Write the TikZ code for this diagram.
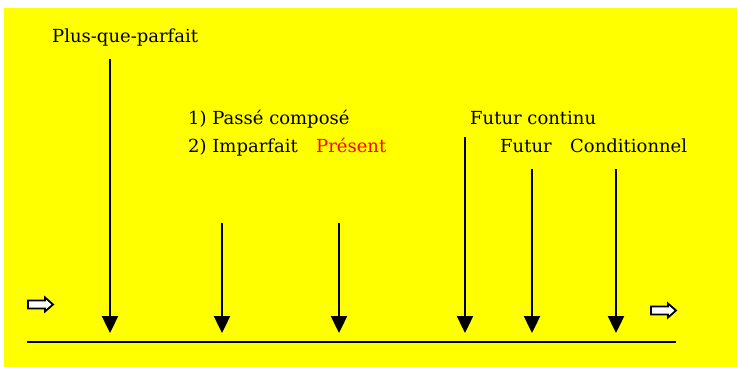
\documentclass[tikz,border=0pt]{standalone}
\usepackage{fontspec}
\setmainfont{DejaVu Serif}
\usetikzlibrary{arrows.meta}
\definecolor{bgyellow}{RGB}{255,255,0}
\definecolor{tred}{RGB}{255,0,0}
\newcommand{\lblfont}{\fontsize{18pt}{20pt}\selectfont}
\begin{document}
\begin{tikzpicture}[x=1pt,y=-1pt,
  lbl/.style={font={\lblfont}, inner sep=0pt, anchor=base west},
  tense/.style={line width=2.4pt, -{Triangle[width=16pt,length=17pt]}},
  blockarrow/.style={fill=white, draw=black, line width=1.8pt, line join=miter}]
\useasboundingbox (0,0) rectangle (737,367);
\fill[bgyellow] (4,8) rectangle (737,367);
% labels
\node[lbl] (ppf) at (52,42) {Plus-que-parfait};
\node[lbl] (pc) at (188,124) {1) Passé composé};
\node[lbl] (imp) at (188,152) {2) Imparfait};
\node[lbl, text=tred] (pres) at (316,152) {Présent};
\node[lbl] (fc) at (470,124) {Futur continu};
\node[lbl] (fut) at (500,152) {Futur};
\node[lbl] (cond) at (570,152) {Conditionnel};
% arrow ends
\coordinate (a1) at (110,59);  \coordinate (b1) at (110,333);
\coordinate (a2) at (222,223); \coordinate (b2) at (222,333);
\coordinate (a3) at (339,223); \coordinate (b3) at (339,333);
\coordinate (a4) at (465,137); \coordinate (b4) at (465,333);
\coordinate (a5) at (532,169); \coordinate (b5) at (532,333);
\coordinate (a6) at (616,169); \coordinate (b6) at (616,333);
\foreach \i in {1,...,6} \draw[tense] (a\i) -- (b\i);
% time line
\coordinate (l0) at (27,342);
\coordinate (l1) at (676,342);
\draw[line width=2pt] (l0) -- (l1);
% block arrows
\draw[blockarrow] (28,300.5) -- (45,300.5) -- (45,297.5) -- (53,304.5) -- (45,311.5) -- (45,308.5) -- (28,308.5) -- cycle;
\draw[blockarrow] (651,306.5) -- (668,306.5) -- (668,303.5) -- (676,310.5) -- (668,317.5) -- (668,314.5) -- (651,314.5) -- cycle;
\end{tikzpicture}
\end{document}
